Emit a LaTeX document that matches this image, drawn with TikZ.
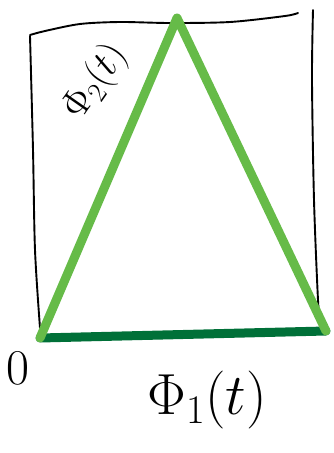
\RequirePackage{fix-cm}
\documentclass[tikz,border=0pt]{standalone}
\usetikzlibrary{calc}
\definecolor{lgreen}{RGB}{102,187,72}
\definecolor{dgreen}{RGB}{0,112,56}
\begin{document}
\begin{tikzpicture}[x=1pt,y=-1pt,
  ink/.style={line width=1.9pt,line cap=round,line join=round,black},
  sidegreen/.style={line width=9pt,line cap=round,line join=round,lgreen},
  basegreen/.style={line width=9pt,line cap=round,dgreen},
  lbl/.style={inner sep=0pt,font=\fontsize{50}{54}\selectfont}]
\useasboundingbox (0,0) rectangle (333,453);
% box (hand drawn)
\draw[ink] plot[smooth] coordinates {(40,328) (35,250) (33,150) (30,36)};
\draw[ink] plot[smooth] coordinates {(30,35) (45,31) (80,24) (120,22) (170,23) (230,22) (285,16) (298,13)};
\draw[ink] plot[smooth] coordinates {(313,10) (312,80) (314,200) (318,300) (320,318)};
% coordinates of triangle
\coordinate (o) at (40,338);
\coordinate (apex) at (177,18);
\coordinate (r) at (326,331);
% green triangle
\draw[basegreen] (o) -- (r);
\draw[sidegreen] (o) -- (apex) -- (r);
% labels
\node[lbl] (zero) at (18,368) {$0$};
\node[inner sep=0pt,font=\fontsize{58}{62}\selectfont] (phione) at (207,400) {$\Phi_{1}(t)$};
\node[inner sep=0pt,font=\fontsize{40}{44}\selectfont,rotate=55] (phitwo) at (96,82) {$\Phi_{2}(t)$};
\end{tikzpicture}
\end{document}
